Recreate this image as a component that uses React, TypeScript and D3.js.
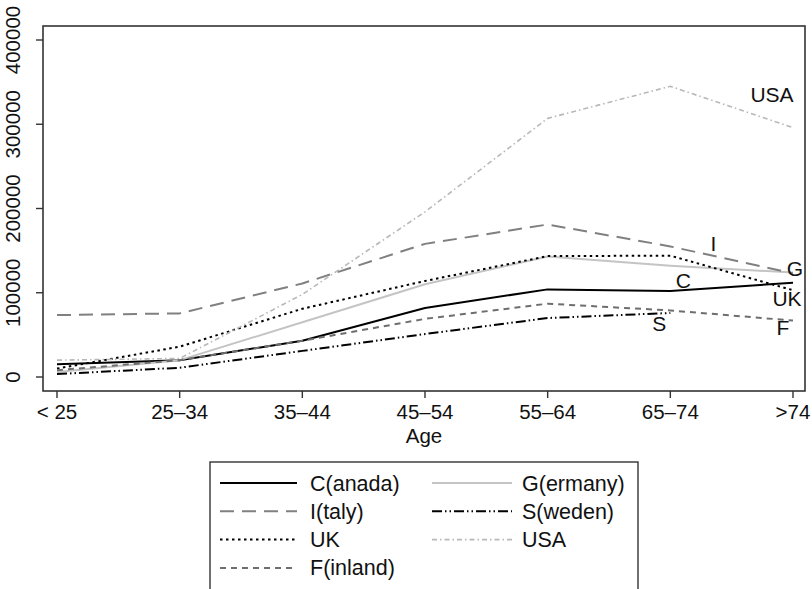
import { useRef, useEffect } from "react";
import * as d3 from "d3";

// Age groups on the x axis
const ageGroups = ["< 25", "25\u201334", "35\u201344", "45\u201354", "55\u201364", "65\u201374", ">74"];
const yTicks = [0, 100000, 200000, 300000, 400000];

// Series values, one per age group (null = no value)
const canada = [15000, 20000, 43000, 82000, 104000, 102000, 112000];
const germany = [6000, 20000, 65000, 110000, 143000, 132000, 124000];
const italy = [73500, 75500, 111000, 158000, 181000, 155000, 123000];
const sweden = [3500, 11000, 31000, 51000, 70000, 76000, null];
const uk = [10000, 36000, 81000, 114000, 143500, 144000, 103000];
const usa = [20000, 22000, 98000, 196000, 307000, 345000, 296000];
const finland = [8000, 20000, 43000, 69000, 87000, 79000, 67000];

const series = [
    { key: "C", name: "C(anada)", values: canada, color: "#000000", width: 2, dash: null },
    { key: "G", name: "G(ermany)", values: germany, color: "#c4c4c4", width: 2, dash: null },
    { key: "I", name: "I(taly)", values: italy, color: "#808080", width: 2, dash: "14,8" },
    { key: "S", name: "S(weden)", values: sweden, color: "#000000", width: 2, dash: "10,3,1.5,3,1.5,3" },
    { key: "UK", name: "UK", values: uk, color: "#000000", width: 2, dash: "2.5,3.5" },
    { key: "USA", name: "USA", values: usa, color: "#b8b8b8", width: 1.6, dash: "5,3,1.5,3" },
    { key: "F", name: "F(inland)", values: finland, color: "#6e6e6e", width: 2, dash: "6,5" }
];

// Text labels placed next to a data point (index into ageGroups) with a small offset
const pointLabels = [
    { key: "USA", idx: 6, dx: -21, dy: -26 },
    { key: "I", idx: 5, dx: 43, dy: 5 },
    { key: "G", idx: 6, dx: 2, dy: 3 },
    { key: "C", idx: 5, dx: 13, dy: -3 },
    { key: "UK", idx: 6, dx: -6, dy: 16 },
    { key: "S", idx: 5, dx: -11, dy: 18 },
    { key: "F", idx: 6, dx: -10, dy: 14 }
];

// Legend order (two columns)
const legendOrder = ["C", "G", "I", "S", "UK", "USA", "F"];

export default function App() {
    const ref = useRef(null);

    const chartAttr = {
        width: 812,
        height: 589,
        left: 43,
        right: 805,
        top: 26,
        bottom: 391
    };

    useEffect(() => {
        const font = "'Liberation Sans', Arial, Helvetica, sans-serif";

        const xScale = d3.scalePoint()
            .domain(ageGroups)
            .range([57, 793]);

        const yScale = d3.scaleLinear()
            .domain([0, 400000])
            .range([377, 40]);

        const svg = d3.select(ref.current)
            .attr("width", chartAttr.width)
            .attr("height", chartAttr.height)
            .style("font-family", font);

        svg.selectAll("*").remove();

        // Plot frame
        svg.append("rect")
            .attr("x", chartAttr.left)
            .attr("y", chartAttr.top)
            .attr("width", chartAttr.right - chartAttr.left)
            .attr("height", chartAttr.bottom - chartAttr.top)
            .attr("fill", "none")
            .attr("stroke", "#333")
            .attr("stroke-width", 1.6);

        // Y axis ticks and rotated labels
        const yAxis = svg.append("g");
        yAxis.selectAll("line")
            .data(yTicks)
            .enter()
            .append("line")
            .attr("x1", chartAttr.left - 7)
            .attr("x2", chartAttr.left)
            .attr("y1", d => yScale(d))
            .attr("y2", d => yScale(d))
            .attr("stroke", "#333")
            .attr("stroke-width", 1.4);
        yAxis.selectAll("text")
            .data(yTicks)
            .enter()
            .append("text")
            .attr("transform", d => `translate(20, ${yScale(d)}) rotate(-90)`)
            .attr("text-anchor", "middle")
            .attr("font-size", 20.5)
            .attr("fill", "#111")
            .text(d => d);

        // X axis ticks and labels
        const xAxis = svg.append("g");
        xAxis.selectAll("line")
            .data(ageGroups)
            .enter()
            .append("line")
            .attr("x1", d => xScale(d))
            .attr("x2", d => xScale(d))
            .attr("y1", chartAttr.bottom)
            .attr("y2", chartAttr.bottom + 7)
            .attr("stroke", "#333")
            .attr("stroke-width", 1.4);
        xAxis.selectAll("text")
            .data(ageGroups)
            .enter()
            .append("text")
            .attr("x", d => xScale(d))
            .attr("y", 419)
            .attr("text-anchor", "middle")
            .attr("font-size", 20.5)
            .attr("fill", "#111")
            .text(d => d);

        svg.append("text")
            .attr("x", (chartAttr.left + chartAttr.right) / 2)
            .attr("y", 443)
            .attr("text-anchor", "middle")
            .attr("font-size", 20.5)
            .attr("fill", "#111")
            .text("Age");

        // Lines
        const line = d3.line()
            .defined(d => d[1] !== null)
            .x(d => xScale(d[0]))
            .y(d => yScale(d[1]));

        svg.append("g")
            .selectAll("path")
            .data(series)
            .enter()
            .append("path")
            .attr("d", s => line(ageGroups.map((a, i) => [a, s.values[i]])))
            .attr("fill", "none")
            .attr("stroke", s => s.color)
            .attr("stroke-width", s => s.width)
            .attr("stroke-dasharray", s => s.dash)
            .attr("stroke-linejoin", "round");

        // Series labels
        svg.append("g")
            .selectAll("text")
            .data(pointLabels)
            .enter()
            .append("text")
            .attr("x", d => xScale(ageGroups[d.idx]) + d.dx)
            .attr("y", d => {
                const s = series.find(s => s.key === d.key);
                return yScale(s.values[d.idx]) + d.dy;
            })
            .attr("text-anchor", "middle")
            .attr("font-size", 21)
            .attr("fill", "#111")
            .text(d => d.key);

        // Legend
        const legend = svg.append("g");
        legend.append("rect")
            .attr("x", 210)
            .attr("y", 462)
            .attr("width", 428)
            .attr("height", 160)
            .attr("fill", "none")
            .attr("stroke", "#333")
            .attr("stroke-width", 1.4);

        const items = legend.selectAll("g")
            .data(legendOrder.map(k => series.find(s => s.key === k)))
            .enter()
            .append("g")
            .attr("transform", (d, i) => {
                const col = i % 2;
                const row = Math.floor(i / 2);
                return `translate(${col === 0 ? 220 : 432}, ${483 + row * 28.3})`;
            });
        items.append("line")
            .attr("x1", 0)
            .attr("x2", (d, i) => (i % 2 === 0 ? 77 : 80))
            .attr("y1", 0)
            .attr("y2", 0)
            .attr("stroke", d => d.color)
            .attr("stroke-width", d => d.width)
            .attr("stroke-dasharray", d => d.dash);
        items.append("text")
            .attr("x", 90)
            .attr("y", 7.5)
            .attr("font-size", 21.5)
            .attr("fill", "#111")
            .text(d => d.name);

    }, []);

    return (
        <div style={{ position: "absolute", left: 0, top: 0 }}>
            <svg ref={ref} style={{ display: "block", background: "#fff" }} />
        </div>
    );
}
